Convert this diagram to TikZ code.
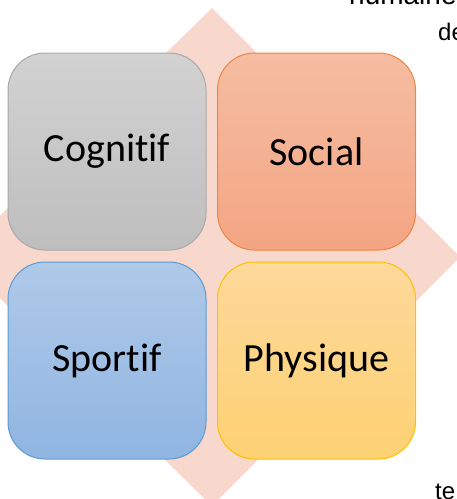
\documentclass[tikz,border=0pt]{standalone}
\usepackage{fontspec}
\setmainfont{Carlito}[Ligatures={NoCommon}]
\newfontfamily\arialf{Liberation Sans}
\definecolor{diamondc}{HTML}{F8D7CD}
\definecolor{cogtop}{HTML}{D2D2D2}
\definecolor{cogbot}{HTML}{BEBEBE}
\definecolor{cogline}{HTML}{A8A8A8}
\definecolor{soctop}{HTML}{F5BDA2}
\definecolor{socbot}{HTML}{F4A583}
\definecolor{socline}{HTML}{EE8540}
\definecolor{sprtop}{HTML}{AFC9E8}
\definecolor{sprbot}{HTML}{90B5E2}
\definecolor{sprline}{HTML}{5B9BD5}
\definecolor{phytop}{HTML}{FDD99B}
\definecolor{phybot}{HTML}{FDD173}
\definecolor{phyline}{HTML}{FFC000}
\tikzset{
  quad/.style={rectangle, rounded corners=37pt, minimum width=198pt, minimum height=197pt,
    line width=1pt, font=\fontsize{40}{48}\selectfont, text=black, inner sep=0pt},
  cog/.style={quad, draw=cogline, top color=cogtop, bottom color=cogbot},
  soc/.style={quad, draw=socline, top color=soctop, bottom color=socbot},
  spr/.style={quad, draw=sprline, top color=sprtop, bottom color=sprbot},
  phy/.style={quad, draw=phyline, top color=phytop, bottom color=phybot},
  frag/.style={anchor=base west, inner sep=0pt, font=\arialf\fontsize{24}{28}\selectfont, text=black}
}
\begin{document}
\begin{tikzpicture}[x=1pt,y=-1pt]
\useasboundingbox (0,0) rectangle (457,499);
\clip (0,0) rectangle (457,499);
\fill[diamondc] (212,8) -- (460,257) -- (212,506) -- (-42,257) -- cycle;
\node[cog] (cognitif) at (107,151.5) {Cognitif};
\node[soc] (social) at (316.5,151.5) {Social};
\node[spr] (sportif) at (107,360.5) {Sportif};
\node[phy] (physique) at (316.5,360.5) {Physique};
\node[frag, font=\arialf\fontsize{28}{32}\selectfont] (humaine) at (349,4) {humaine};
\node[frag] (de) at (438,40) {de};
\node[frag] (te) at (435,499) {te};
\end{tikzpicture}
\end{document}
